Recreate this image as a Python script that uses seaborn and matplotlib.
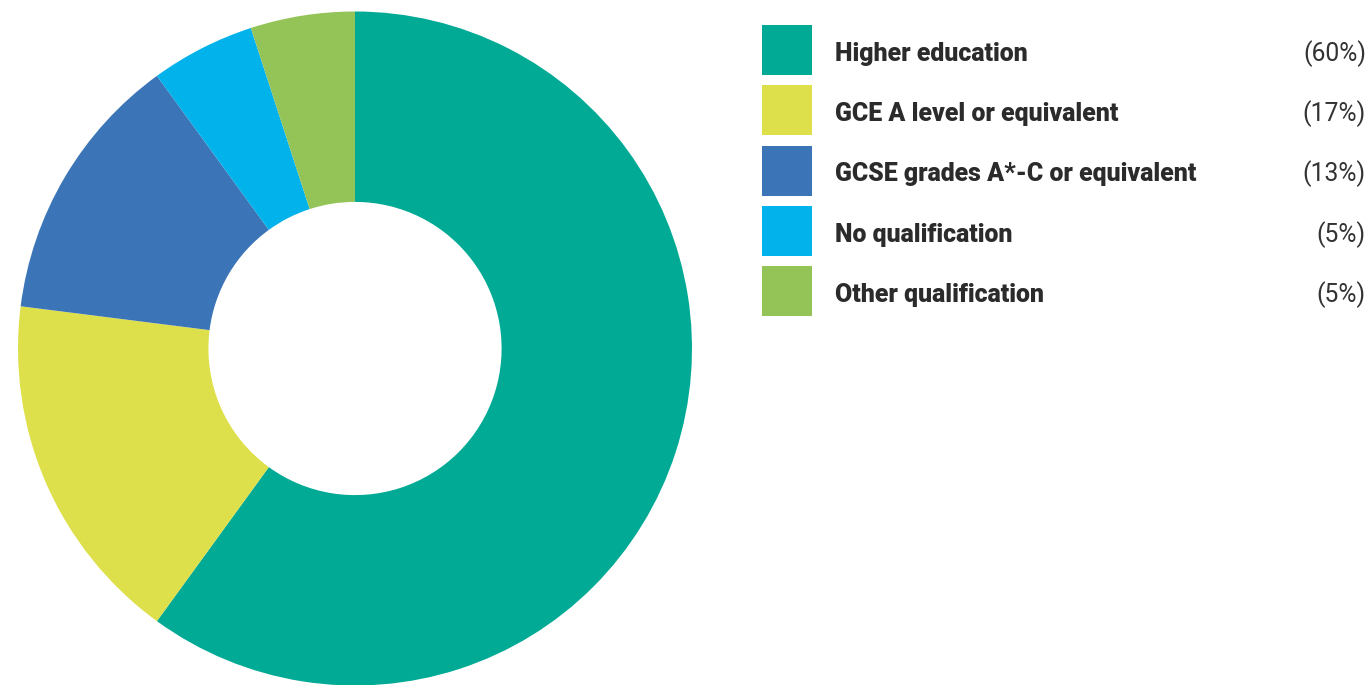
import matplotlib
matplotlib.use("Agg")
import matplotlib.pyplot as plt
from matplotlib.patches import Rectangle
import seaborn as sns

categories = [
    "Higher education",
    "GCE A level or equivalent",
    "GCSE grades A*-C or equivalent",
    "No qualification",
    "Other qualification",
]
shares = [60, 17, 13, 5, 5]
share_labels = ["(60%)", "(17%)", "(13%)", "(5%)", "(5%)"]
colors = ["#00AA94", "#DEE04B", "#3B75B7", "#02B2EA", "#94C457"]

sns.set_theme(style="white")
plt.rcParams["font.family"] = ["Roboto", "DejaVu Sans"]

W, H = 1370, 685
fig = plt.figure(figsize=(W / 100, H / 100), dpi=100)
fig.patch.set_facecolor("white")

# legend layer in pixel coordinates
leg = fig.add_axes([0, 0, 1, 1])
leg.set_xlim(0, W)
leg.set_ylim(H, 0)
leg.axis("off")
leg.patch.set_alpha(0)

for i, (cat, lab, col) in enumerate(zip(categories, share_labels, colors)):
    top = 25 + 60.3 * i
    leg.add_patch(Rectangle((762, top), 50, 50, facecolor=col, edgecolor="none"))
    base = top + 35.7
    leg.text(835, base, cat, fontsize=17.9, fontweight="heavy", color="#2b2b2b",
             va="baseline", ha="left")
    leg.text(1366, base, lab, fontsize=17.8, color="#333333",
             va="baseline", ha="right")

# donut
cx, cy, r = 355, 348.5, 337
ax = fig.add_axes([(cx - r) / W, (H - cy - r) / H, 2 * r / W, 2 * r / H])
ax.pie(shares, colors=colors, startangle=90, counterclock=False, radius=1,
       wedgeprops=dict(width=0.565, edgecolor="none", linewidth=0))
ax.set_xlim(-1, 1)
ax.set_ylim(-1, 1)
ax.set_aspect("equal")
ax.axis("off")

fig.savefig("out.png", dpi=100, facecolor="white")
